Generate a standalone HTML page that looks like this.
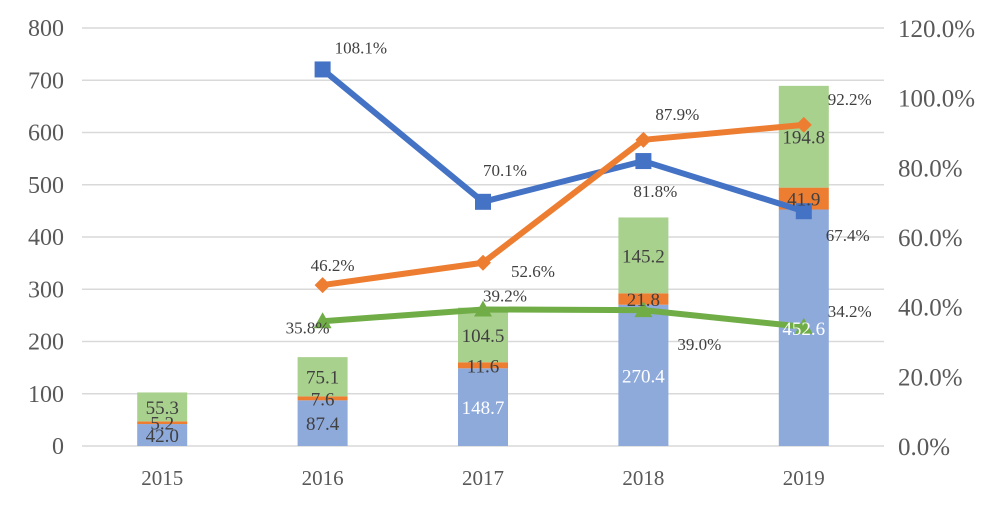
<!DOCTYPE html>
<html><head><meta charset="utf-8"><style>
body{margin:0;background:#fff;}
svg text{font-family:"Liberation Serif",serif;}
</style></head><body>
<svg id="c" width="1006" height="503" xmlns="http://www.w3.org/2000/svg">
<rect x="0" y="0" width="1006" height="503" fill="#fff"/>
<g id="grid"></g><g id="bars"></g><g id="lines"></g><g id="labels"></g>
</svg>
<script>
const years=['2015','2016','2017','2018','2019'];
const blueVals=[42.0,87.4,148.7,270.4,452.6];
const orangeVals=[5.2,7.6,11.6,21.8,41.9];
const greenVals=[55.3,75.1,104.5,145.2,194.8];
const bluePct=[null,108.1,70.1,81.8,67.4];
const orangePct=[null,46.2,52.6,87.9,92.2];
const greenPct=[null,35.8,39.2,39.0,34.2];
const leftTicks=[0,100,200,300,400,500,600,700,800];
const rightTicks=['0.0%','20.0%','40.0%','60.0%','80.0%','100.0%','120.0%'];
const NS='http://www.w3.org/2000/svg';
const L=82,R=884,T=28,B=446;
const y=v=>B-v/800*(B-T);
const yp=p=>B-p/120*(B-T);
const cw=(R-L)/years.length;
const x=i=>L+cw*(i+0.5);
function mk(tag,attrs,parent,txt){const e=document.createElementNS(NS,tag);for(const k in attrs)e.setAttribute(k,attrs[k]);if(txt!==undefined)e.textContent=txt;document.getElementById(parent).appendChild(e);return e;}
leftTicks.forEach(t=>{
  const g=mk('line',{x1:L,x2:R,y1:y(t),y2:y(t),stroke:'#d9d9d9','stroke-width':1.5},'grid');
  
  
  const tx=mk('text',{x:64,y:y(t)+8,'text-anchor':'end','font-size':24,fill:'#595959'},'grid',t);
  
  
});
rightTicks.forEach((t,i)=>{
  const tx=mk('text',{x:898,y:yp(i*20)+9,'font-size':25,fill:'#595959'},'grid',t);
  
  
});
years.forEach((yr,i)=>{
  const tx=mk('text',{x:x(i),y:485,'text-anchor':'middle','font-size':21,fill:'#595959'},'grid',yr);
  
  
  const bw=50;let base=0;
  [[blueVals,'#8eaadb'],[orangeVals,'#ed7d31'],[greenVals,'#a9d18e']].forEach(([arr,col],k)=>{
    const v=arr[i];
    const r=mk('rect',{x:x(i)-bw/2,y:y(base+v),width:bw,height:y(base)-y(base+v),fill:col},'bars');
    
    
    const t=mk('text',{x:x(i),y:(y(base)+y(base+v))/2+7,'text-anchor':'middle','font-size':19,fill:k==0&&i>1?'#fff':'#404040'},'labels',v.toFixed(1));
    
    
    base+=v;
  });
});
const series=[[bluePct,'#4472c4','sq'],[orangePct,'#ed7d31','di'],[greenPct,'#70ad47','tr']];
series.forEach(([arr,col,m],s)=>{
  const pts=arr.map((p,i)=>p==null?null:[x(i),yp(p)]).filter(Boolean);
  const pl=mk('polyline',{points:pts.map(p=>p.join(',')).join(' '),fill:'none',stroke:col,'stroke-width':6,'stroke-linejoin':'round'},'lines');
  
  
  arr.forEach((p,i)=>{
    if(p==null)return;
    const cx=x(i),cy=yp(p);let e;
    if(m=='sq')e=mk('rect',{x:cx-8,y:cy-8,width:16,height:16,fill:col},'lines');
    else if(m=='di')e=mk('polygon',{points:`${cx},${cy-8} ${cx+8},${cy} ${cx},${cy+8} ${cx-8},${cy}`,fill:col},'lines');
    else e=mk('polygon',{points:`${cx},${cy-9} ${cx+9},${cy+7} ${cx-9},${cy+7}`,fill:col},'lines');
    
    
  });
});
const offs=[[[0,0],[12,-22],[0,-32],[-10,30],[22,24]],[[0,0],[-12,-20],[28,8],[12,-26],[24,-26]],[[0,0],[-37,6],[0,-14],[34,34],[24,-16]]];
series.forEach(([arr],s)=>{arr.forEach((p,i)=>{
  if(p==null)return;
  const t=mk('text',{x:x(i)+offs[s][i][0],y:yp(p)+offs[s][i][1]+6,'font-size':17,fill:'#404040'},'labels',p.toFixed(1)+'%');
  
  
});});
</script>
</body></html>
